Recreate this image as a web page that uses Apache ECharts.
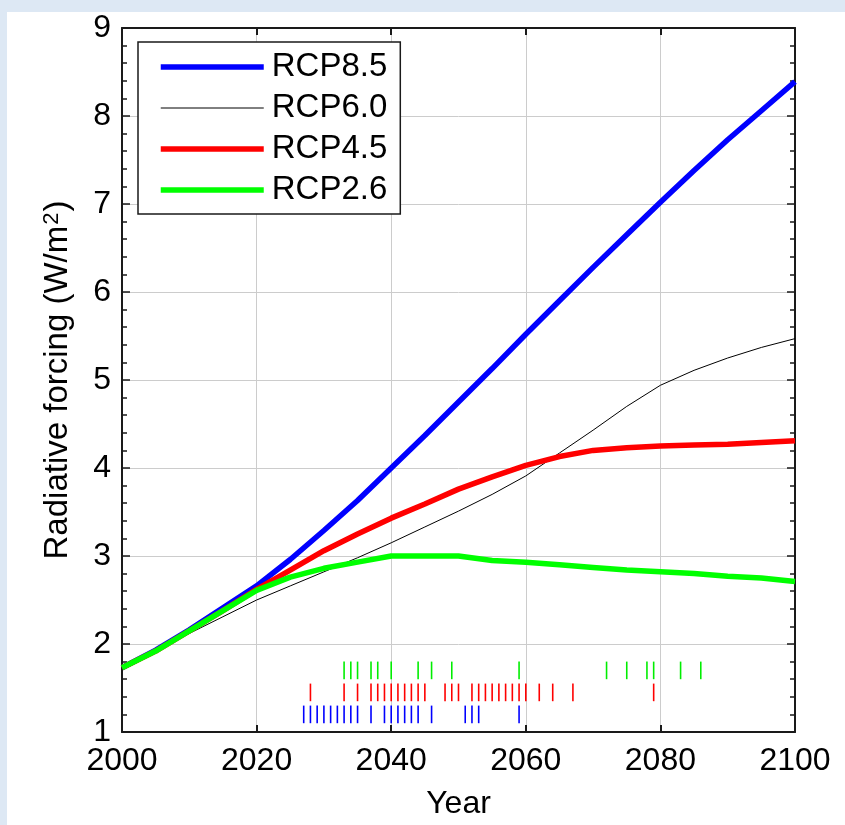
<!DOCTYPE html>
<html><head><meta charset="utf-8">
<script src="https://cdn.jsdelivr.net/npm/echarts@6/dist/echarts.min.js"></script>
<style>
html,body{margin:0;padding:0;background:#dde8f4;width:845px;height:825px;overflow:hidden}
#c{position:absolute;left:7px;top:12px;width:838px;height:813px;background:#fff}
</style></head><body><div id="c"></div>
<script>
const years = [2000,2005,2010,2015,2020,2025,2030,2035,2040,2045,2050,2055,2060,2065,2070,2075,2080,2085,2090,2095,2100];
const rcp85 = [1.73,1.93,2.16,2.41,2.66,2.96,3.29,3.63,4.00,4.37,4.75,5.13,5.52,5.90,6.28,6.65,7.02,7.38,7.73,8.06,8.39];
const rcp60 = [1.73,1.91,2.12,2.31,2.50,2.66,2.82,2.98,3.15,3.33,3.51,3.70,3.91,4.17,4.43,4.70,4.94,5.11,5.25,5.37,5.47];
const rcp45 = [1.73,1.92,2.15,2.38,2.62,2.84,3.06,3.25,3.43,3.59,3.76,3.90,4.03,4.13,4.20,4.23,4.25,4.26,4.27,4.29,4.31];
const rcp26 = [1.73,1.92,2.15,2.38,2.61,2.76,2.86,2.93,3.00,3.00,3.00,2.95,2.93,2.90,2.87,2.84,2.82,2.80,2.77,2.75,2.71];
const rugYears26 = [2033,2034,2035,2037,2038,2040,2044,2046,2049,2059,2072,2075,2078,2079,2083,2086];
const rugYears45 = [2028,2033,2035,2037,2038,2039,2040,2041,2042,2043,2044,2045,2048,2049,2050,2052,2053,2054,2055,2056,2057,2058,2059,2060,2062,2064,2067,2079];
const rugYears85 = [2027,2028,2029,2030,2031,2032,2033,2034,2035,2037,2039,2040,2041,2042,2043,2044,2046,2051,2052,2053,2059];
const rugBand26 = [1.6,1.8];
const rugBand45 = [1.35,1.55];
const rugBand85 = [1.1,1.3];
const xTicks = {min:2000,max:2100,interval:20};
const yTicks = {min:1,max:9,interval:1};

const FONT = "'Liberation Sans', Arial, Helvetica, sans-serif";
const chart = echarts.init(document.getElementById('c'), null, {renderer:'canvas'});
const pairs = v => years.map((y,i)=>[y,v[i]]);
function rug(name, yrs, band, color){
  return {
    type:'custom', name:name, xAxisIndex:0, yAxisIndex:0, silent:true, z:3,
    data: yrs.map(y=>[y, band[0], band[1]]),
    renderItem:(params, api)=>{
      const p1 = api.coord([api.value(0), api.value(1)]);
      const p2 = api.coord([api.value(0), api.value(2)]);
      return {type:'line', shape:{x1:p1[0],y1:p1[1],x2:p2[0],y2:p2[1]}, style:{stroke:color, lineWidth:1.6}};
    }
  };
}
function lineS(name, v, color, w, z){
  return {type:'line', name:name, data:pairs(v), symbol:'none', showSymbol:false, z:z,
    lineStyle:{color:color, width:w}, itemStyle:{color:color}, emphasis:{disabled:true}, animation:false};
}
const axisLine = {show:true, onZero:false, lineStyle:{color:'#1a1a1a', width:2}};
const split = {show:true, lineStyle:{color:'#cccccc', width:1}};
chart.setOption({
  animation:false,
  grid:{left:115, right:50, top:12, bottom:93, containLabel:false},
  legend:{
    left:131, top:30, orient:'vertical',
    data:['RCP8.5','RCP6.0','RCP4.5','RCP2.6'],
    itemWidth:103, itemHeight:20, itemGap:5,
    padding:[7,13,6,20],
    borderColor:'#1a1a1a', borderWidth:1.5, backgroundColor:'#fff',
    lineStyle:{width:'inherit'},
    itemStyle:{opacity:0},
    textStyle:{fontSize:33, fontFamily:FONT, color:'#000', lineHeight:36, padding:[0,0,0,3]},
    selectedMode:false
  },
  xAxis:[
    {type:'value', min:xTicks.min, max:xTicks.max, interval:xTicks.interval, position:'bottom',
     axisLine:axisLine, axisTick:{show:true, inside:true, length:7, lineStyle:{color:'#1a1a1a', width:2}},
     axisLabel:{fontSize:32, fontFamily:FONT, color:'#000', margin:13, formatter:v=>String(v)},
     splitLine:split,
     name:'Year', nameLocation:'middle', nameGap:56, nameTextStyle:{fontSize:32, fontFamily:FONT, color:'#000'}},
    {type:'value', min:xTicks.min, max:xTicks.max, interval:xTicks.interval, position:'top',
     axisLine:axisLine, axisTick:{show:true, inside:true, length:7, lineStyle:{color:'#1a1a1a', width:2}},
     axisLabel:{show:false}, splitLine:{show:false}}
  ],
  yAxis:[
    {type:'value', min:yTicks.min, max:yTicks.max, interval:yTicks.interval, position:'left',
     axisLine:axisLine, axisTick:{show:true, inside:true, length:8, lineStyle:{color:'#1a1a1a', width:1.5}},
     minorTick:{show:true, splitNumber:5, length:5, lineStyle:{color:'#1a1a1a', width:1.5}},
     axisLabel:{fontSize:32, fontFamily:FONT, color:'#000', margin:11},
     splitLine:split,
     name:'{a|Radiative forcing (W/m}{s|2}{a|)}', nameLocation:'middle', nameGap:48, nameRotate:90,
     nameTextStyle:{fontFamily:FONT, color:'#000',
       rich:{a:{fontSize:33, fontFamily:FONT, color:'#000', lineHeight:33, padding:[9,0,0,0], verticalAlign:'bottom'},
             s:{fontSize:22, fontFamily:FONT, color:'#000', lineHeight:22, verticalAlign:'top', padding:[0,1,0,1]}}}},
    {type:'value', min:yTicks.min, max:yTicks.max, interval:yTicks.interval, position:'right',
     axisLine:axisLine, axisTick:{show:true, inside:true, length:8, lineStyle:{color:'#1a1a1a', width:1.5}},
     minorTick:{show:true, splitNumber:5, length:5, lineStyle:{color:'#1a1a1a', width:1.5}},
     axisLabel:{show:false}, splitLine:{show:false}}
  ],
  series:[
    lineS('RCP8.5', rcp85, '#0000ff', 5.5, 4),
    lineS('RCP6.0', rcp60, '#000000', 1, 5),
    lineS('RCP4.5', rcp45, '#ff0000', 5.5, 6),
    lineS('RCP2.6', rcp26, '#00ff00', 5.5, 7),
    rug('rug26', rugYears26, rugBand26, '#00ee00'),
    rug('rug45', rugYears45, rugBand45, '#ff0000'),
    rug('rug85', rugYears85, rugBand85, '#0000ff')
  ]
});
</script></body></html>
